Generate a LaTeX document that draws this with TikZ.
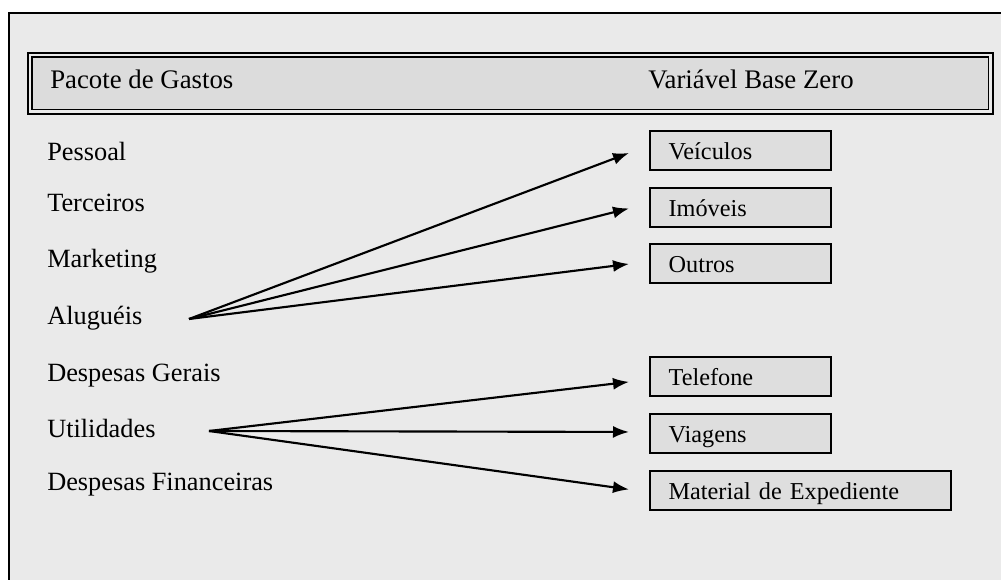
\documentclass[tikz,border=0pt]{standalone}
\usepackage{fontspec}
\setmainfont{Liberation Serif}
\usetikzlibrary{arrows.meta}
\definecolor{bgc}{HTML}{EAEAEA}
\definecolor{hdc}{HTML}{DCDCDC}
\definecolor{bxc}{HTML}{DEDEDE}
\begin{document}
\begin{tikzpicture}[x=0.75pt,y=-0.75pt,
  lbl/.style={anchor=base west, inner sep=0pt, font=\fontsize{19.75}{22}\selectfont},
  hlbl/.style={lbl, font=\fontsize{20.1}{22}\selectfont},
  vbox/.style={draw, line width=1.4pt, fill=bxc, anchor=north west,
    minimum height=29.25pt, inner xsep=14pt, inner ysep=0pt,
    text width=107.75pt, align=left, text height=13pt, text depth=0pt,
    font=\fontsize{18.2}{20}\selectfont},
  widebox/.style={vbox, text width=197.75pt},
  hdrbox/.style={draw, line width=1.2pt, double=bgc, double distance=2.1pt,
    fill=hdc, minimum width=720.4pt, minimum height=42.4pt, inner sep=0pt},
  arr/.style={line width=1.6pt, -{Latex[length=12pt,width=9pt]}}]
\useasboundingbox (0,0) rectangle (1001,580);
\fill[white] (0,0) rectangle (1001,580);
\clip (0,0) rectangle (1001,580);
\draw[fill=bgc, line width=1.2pt] (9,13) rectangle (1030,600);

% header
\node[hdrbox] (hdr) at (510.25,83.25) {};
\node[hlbl] (pacote) at (50,89) {Pacote de Gastos};
\node[hlbl] (varbz) at (648,89) {Variável Base Zero};

% left labels
\node[lbl] (pessoal) at (47,161) {Pessoal};
\node[lbl] (terc) at (47,212) {Terceiros};
\node[lbl] (mkt) at (47,268) {Marketing};
\node[lbl] (alug) at (47,325) {Aluguéis};
\node[lbl] (dgerais) at (47,382) {Despesas Gerais};
\node[lbl] (util) at (47,438) {Utilidades};
\node[lbl] (dfin) at (47,491) {Despesas Financeiras};

% right boxes
\node[vbox] (vei) at (649,130) {Veículos};
\node[vbox] (imo) at (649,187) {Imóveis};
\node[vbox] (out) at (649,243) {Outros};
\node[vbox] (tel) at (649,356) {Telefone};
\node[vbox] (via) at (649,413) {Viagens};
\node[widebox] (mat) at (649,470) {Material de Expediente};

% connectors
\coordinate (aluO) at (189,319);
\coordinate (utiO) at (209,431);
\draw[arr] (aluO) -- ([xshift=-15pt,yshift=-1.9pt]vei.west);
\draw[arr] (aluO) -- ([xshift=-15pt,yshift=-0.75pt]imo.west);
\draw[arr] (aluO) -- ([xshift=-15pt,yshift=-0.4pt]out.west);
\draw[arr] (utiO) -- ([xshift=-15pt,yshift=-4.1pt]tel.west);
\draw[arr] (utiO) -- ([xshift=-15pt,yshift=1.1pt]via.west);
\draw[arr] (utiO) -- ([xshift=-15pt,yshift=0.75pt]mat.west);
\end{tikzpicture}
\end{document}
